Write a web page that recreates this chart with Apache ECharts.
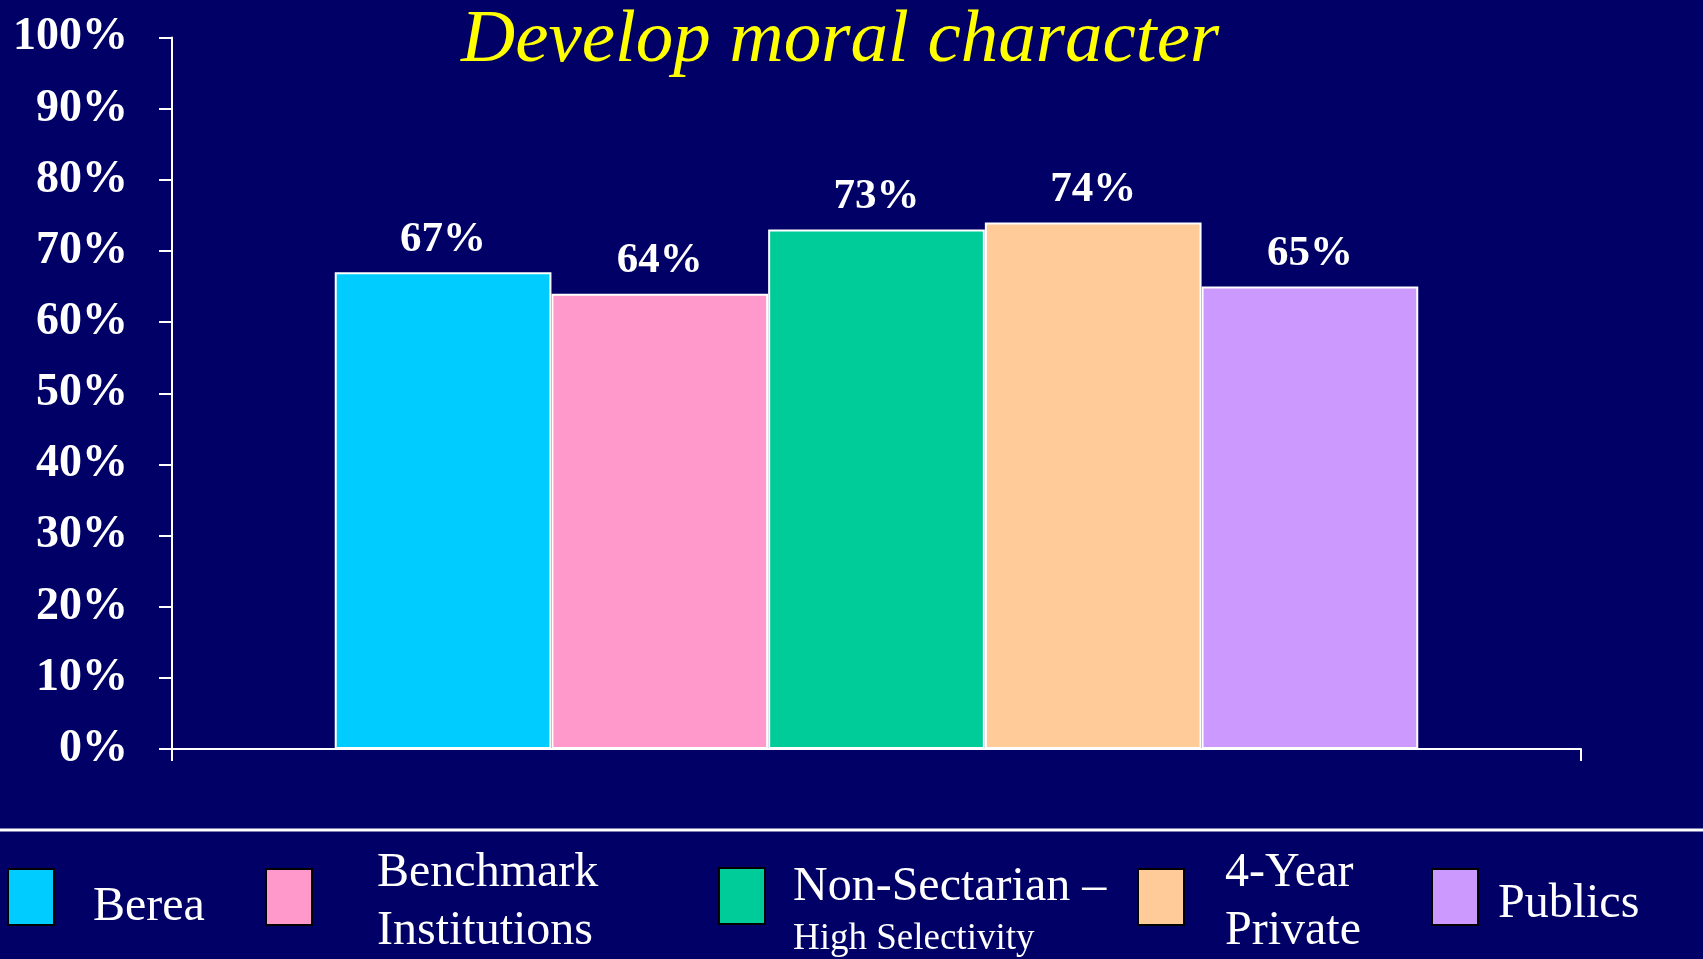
<!DOCTYPE html>
<html>
<head>
<meta charset="utf-8">
<script src="https://cdn.jsdelivr.net/npm/echarts@6/dist/echarts.min.js"></script>
<style>
html,body{margin:0;padding:0;background:#000066;}
#chart{width:1703px;height:959px;}
</style>
</head>
<body>
<div id="chart"></div>
<script>
const titleText = 'Develop moral character';
const categories = [''];
const seriesNames = ['Berea', 'Benchmark Institutions', 'Non-Sectarian – High Selectivity', '4-Year Private', 'Publics'];
const seriesValues = [67, 64, 73, 74, 65];
const seriesColors = ['#00CCFF', '#FF99CC', '#00CC99', '#FFCC99', '#CC99FF'];
const yTicks = [0, 10, 20, 30, 40, 50, 60, 70, 80, 90, 100];

const FONT = '"Liberation Serif", "Times New Roman", serif';

const series = seriesNames.map((name, i) => ({
  name: name,
  type: 'bar',
  data: [seriesValues[i]],
  barGap: '0%',
  barCategoryGap: '23.1%',
  itemStyle: { color: seriesColors[i], borderColor: '#FFFFFF', borderWidth: 2 },
  label: {
    show: true,
    position: 'top',
    distance: 11,
    formatter: '{c}%',
    color: '#FFFFFF',
    fontFamily: FONT,
    fontWeight: 'bold',
    fontSize: 43
  },
  emphasis: { disabled: true }
}));

// legend layout: position of each legend block and its text padding
const legendLayout = [
  { left: 7,    top: 859, padding: [20, 0, 0, 34], fmt: 'Berea', lh: 56 },
  { left: 265,  top: 834, padding: [10, 0, 0, 60], fmt: 'Benchmark\nInstitutions', lh: 58 },
  { left: 718,  top: 830, padding: [28, 0, 0, 23], fmt: '{a|Non-Sectarian –}\n{b|High Selectivity}', lh: 58 },
  { left: 1137, top: 834, padding: [10, 0, 0, 36], fmt: '4-Year\nPrivate', lh: 58 },
  { left: 1431, top: 862, padding: [14, 0, 0, 15], fmt: 'Publics', lh: 56 }
];

const legends = seriesNames.map((name, i) => {
  const L = legendLayout[i];
  return {
    data: [name],
    left: L.left,
    top: L.top,
    padding: 0,
    orient: 'horizontal',
    icon: 'rect',
    itemWidth: 46,
    itemHeight: 56,
    selectedMode: false,
    itemStyle: { color: seriesColors[i], borderColor: '#000000', borderWidth: 2 },
    formatter: () => L.fmt,
    textStyle: {
      color: '#FFFFFF',
      fontFamily: FONT,
      fontSize: 48,
      lineHeight: L.lh,
      padding: L.padding,
      rich: {
        a: { color: '#FFFFFF', fontFamily: FONT, fontSize: 48, lineHeight: 58 },
        b: { color: '#FFFFFF', fontFamily: FONT, fontSize: 37, lineHeight: 46 }
      }
    }
  };
});

const chart = echarts.init(document.getElementById('chart'), null, { renderer: 'canvas' });
chart.setOption({
  backgroundColor: '#000066',
  animation: false,
  title: {
    text: titleText,
    left: 461,
    top: 4,
    padding: 0,
    textStyle: {
      color: '#FFFF00',
      fontFamily: FONT,
      fontStyle: 'italic',
      fontWeight: 'normal',
      fontSize: 75
    }
  },
  legend: legends,
  grid: { left: 172, right: 122, top: 37.5, bottom: 210, containLabel: false },
  xAxis: {
    type: 'category',
    data: categories,
    boundaryGap: true,
    axisLine: { show: true, lineStyle: { color: '#FFFFFF', width: 2 } },
    axisTick: { show: true, length: 12, lineStyle: { color: '#FFFFFF', width: 2 } },
    axisLabel: { show: false },
    splitLine: { show: false }
  },
  yAxis: {
    type: 'value',
    min: yTicks[0],
    max: yTicks[yTicks.length - 1],
    interval: yTicks[1] - yTicks[0],
    axisLine: { show: true, lineStyle: { color: '#FFFFFF', width: 2 } },
    axisTick: { show: true, length: 13, lineStyle: { color: '#FFFFFF', width: 2 } },
    axisLabel: {
      margin: 44,
      color: '#FFFFFF',
      fontFamily: FONT,
      fontWeight: 'bold',
      fontSize: 46,
      formatter: '{value}%'
    },
    splitLine: { show: false }
  },
  graphic: [
    {
      type: 'line',
      shape: { x1: 0, y1: 830, x2: 1703, y2: 830 },
      style: { stroke: '#FFFFFF', lineWidth: 3 },
      silent: true
    }
  ],
  series: series
});
</script>
</body>
</html>
